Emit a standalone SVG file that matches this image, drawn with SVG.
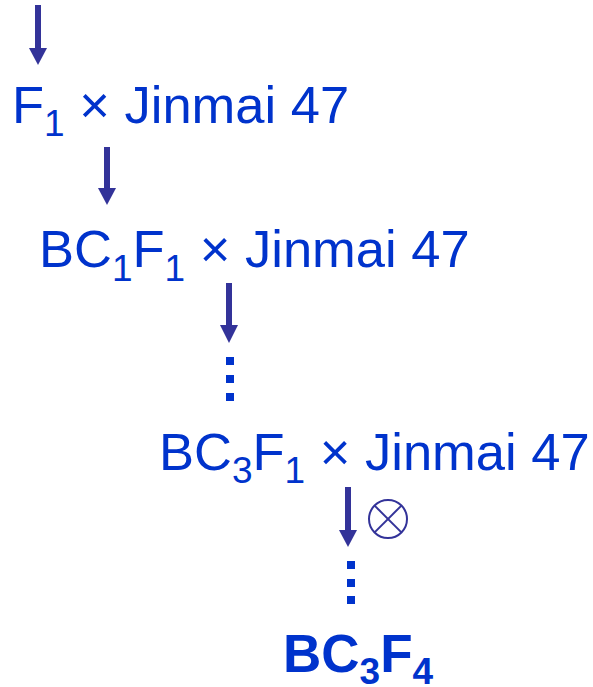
<svg xmlns="http://www.w3.org/2000/svg" width="593" height="687" viewBox="0 0 593 687">
<style>
  .t { font-family: "Liberation Sans", Arial, sans-serif; font-size: 52.5px; fill: #0033CC; }
  .b { font-weight: bold; font-size: 53px; }
  .sub { font-size: 37px; }
  .shaft { stroke: #333399; stroke-width: 6; fill: none; }
  .head { fill: #333399; }
  .dot { fill: #0033CC; }
</style>
<rect width="593" height="687" fill="#FFFFFF"/>
<g id="connectors">
  <g id="arrow1"><line class="shaft" x1="38" y1="5" x2="38" y2="50"/><polygon class="head" points="29,48 47,48 38,65"/></g>
  <g id="arrow2"><line class="shaft" x1="107" y1="147" x2="107" y2="190"/><polygon class="head" points="98,188 116,188 107,205"/></g>
  <g id="arrow3"><line class="shaft" x1="229" y1="283" x2="229" y2="328"/><polygon class="head" points="220,325 238,325 229,343"/></g>
  <g id="dots1"><rect class="dot" x="226" y="357" width="8" height="8"/><rect class="dot" x="226" y="375" width="8" height="8"/><rect class="dot" x="226" y="393" width="8" height="8"/></g>
  <g id="arrow4"><line class="shaft" x1="348" y1="487" x2="348" y2="532"/><polygon class="head" points="339,530 357,530 348,547"/></g>
  <g id="dots2"><rect class="dot" x="347" y="561" width="8" height="8"/><rect class="dot" x="347" y="579" width="8" height="8"/><rect class="dot" x="347" y="596" width="8" height="8"/></g>
  <g id="selfing"><circle cx="388" cy="519" r="19" fill="none" stroke="#333399" stroke-width="2"/><line x1="374.6" y1="505.6" x2="401.4" y2="532.4" stroke="#333399" stroke-width="2"/><line x1="401.4" y1="505.6" x2="374.6" y2="532.4" stroke="#333399" stroke-width="2"/></g>
</g>
<g id="n1"><text class="t" x="12" y="123">F<tspan class="sub" dy="13">1</tspan><tspan dy="-13"> × Jinmai 47</tspan></text></g>
<g id="n2"><text class="t" x="39" y="267">BC<tspan class="sub" dy="14">1</tspan><tspan dy="-14">F</tspan><tspan class="sub" dy="14">1</tspan><tspan dy="-14"> × Jinmai 47</tspan></text></g>
<g id="n3"><text class="t" x="159" y="470">BC<tspan class="sub" dy="13">3</tspan><tspan dy="-13">F</tspan><tspan class="sub" dy="13">1</tspan><tspan dy="-13"> × Jinmai 47</tspan></text></g>
<g id="n4"><text class="t b" x="283" y="672">BC<tspan class="sub" dy="12">3</tspan><tspan dy="-12">F</tspan><tspan class="sub" dy="12">4</tspan></text></g>
</svg>
